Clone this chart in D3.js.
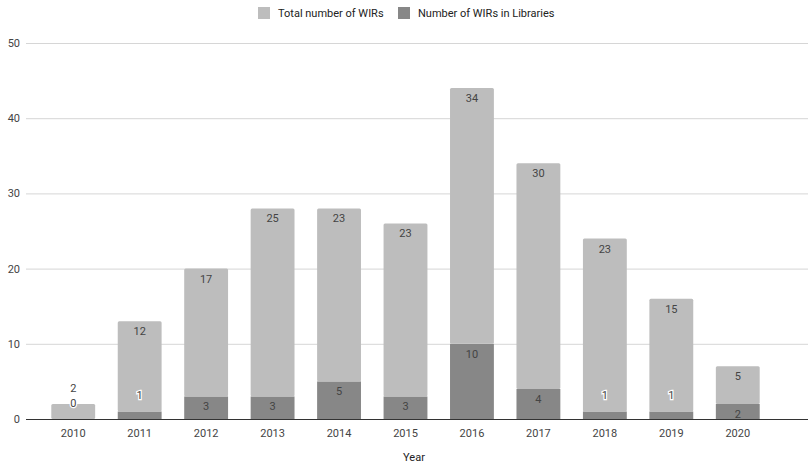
<!DOCTYPE html>
<html>
<head>
<meta charset="utf-8">
<script src="https://cdn.jsdelivr.net/npm/d3@7"></script>
<style>
body{margin:0;background:#fff;}
svg{font-family:Roboto,"Noto Sans",sans-serif;}
</style>
</head>
<body>
<svg id="chart" width="808" height="467"></svg>
<script>
var years = ["2010","2011","2012","2013","2014","2015","2016","2017","2018","2019","2020"];
var libWIRs = [0,1,3,3,5,3,10,4,1,1,2];
var otherWIRs = [2,12,17,25,23,23,34,30,23,15,5];
var yTicks = [0,10,20,30,40,50];
var seriesNames = ["Total number of WIRs","Number of WIRs in Libraries"];
var seriesColors = ["#bdbdbd","#878787"];

var svg = d3.select("#chart");

var x = d3.scaleBand()
	.domain(years)
	.range([40,771])
	.paddingInner(0.34)
	.paddingOuter(0.17);

var y = d3.scaleLinear()
	.domain([0,50])
	.range([419,43]);

// grid
svg.append("g")
	.selectAll("line")
	.data(yTicks.slice(1))
	.enter()
	.append("line")
	.attr("x1",26).attr("x2",808)
	.attr("y1",function(d){return y(d)+0.5})
	.attr("y2",function(d){return y(d)+0.5})
	.attr("stroke","#d6d6d6");

svg.append("g")
	.selectAll("text")
	.data(yTicks)
	.enter()
	.append("text")
	.attr("x",20)
	.attr("y",function(d){return y(d)+4})
	.attr("text-anchor","end")
	.attr("font-size","11px")
	.attr("fill","#444")
	.text(function(d){return d;});

var rows = years.map(function(yr,i){return {year:yr,lib:libWIRs[i],other:otherWIRs[i]};});

var g = svg.selectAll(".yr")
	.data(rows)
	.enter()
	.append("g")
	.attr("class","yr");

// library (bottom) segment
g.append("rect")
	.attr("x",function(d){return x(d.year)})
	.attr("width",x.bandwidth())
	.attr("y",function(d){return y(d.lib)})
	.attr("height",function(d){return y(0)-y(d.lib)})
	.attr("fill",seriesColors[1]);

// other (top) segment
g.append("rect")
	.attr("x",function(d){return x(d.year)})
	.attr("width",x.bandwidth())
	.attr("y",function(d){return y(d.lib+d.other)})
	.attr("height",function(d){return y(d.lib)-y(d.lib+d.other)})
	.attr("rx",1.5)
	.attr("fill",seriesColors[0]);

// small segments get their label above, with a white halo
function labelY(top,bottom,minH){
	if(bottom-top>=minH){return top+14;}
	return top-12;
}

g.append("text")
	.attr("x",function(d){return x(d.year)+x.bandwidth()/2})
	.attr("y",function(d){return labelY(y(d.lib+d.other),y(d.lib),16)})
	.attr("text-anchor","middle")
	.attr("font-size","11px")
	.attr("fill","#444")
	.text(function(d){return d.other;});

g.append("text")
	.attr("x",function(d){return x(d.year)+x.bandwidth()/2})
	.attr("y",function(d){return labelY(y(d.lib),y(0),14)})
	.attr("text-anchor","middle")
	.attr("font-size","11px")
	.attr("fill","#444")
	.attr("stroke",function(d){return (y(0)-y(d.lib)<14)?"#fff":"none"})
	.attr("stroke-width",2.5)
	.attr("paint-order","stroke")
	.text(function(d){return d.lib;});

// baseline
svg.append("line")
	.attr("x1",26).attr("x2",808)
	.attr("y1",y(0)+0.5).attr("y2",y(0)+0.5)
	.attr("stroke","#333");

var xAxis = d3.axisBottom(x).tickSize(0).tickPadding(10);
var ax = svg.append("g")
	.attr("transform","translate(0,"+y(0)+")")
	.call(xAxis);
ax.select(".domain").remove();
ax.selectAll("text")
	.attr("font-size","11px")
	.attr("font-family","Roboto,'Noto Sans',sans-serif")
	.attr("fill","#444");

svg.append("text")
	.attr("x",414).attr("y",461)
	.attr("text-anchor","middle")
	.attr("font-size","11px")
	.attr("fill","#222")
	.text("Year");

// legend
var legX = [258,398];
var leg = svg.selectAll(".leg")
	.data(seriesNames)
	.enter()
	.append("g")
	.attr("class","leg")
	.attr("transform",function(d,i){return "translate("+legX[i]+",7)"});
leg.append("rect")
	.attr("width",12).attr("height",12)
	.attr("fill",function(d,i){return seriesColors[i]});
leg.append("text")
	.attr("x",20).attr("y",10)
	.attr("font-size","11px")
	.attr("fill","#222")
	.text(function(d){return d;});
</script>
</body>
</html>
